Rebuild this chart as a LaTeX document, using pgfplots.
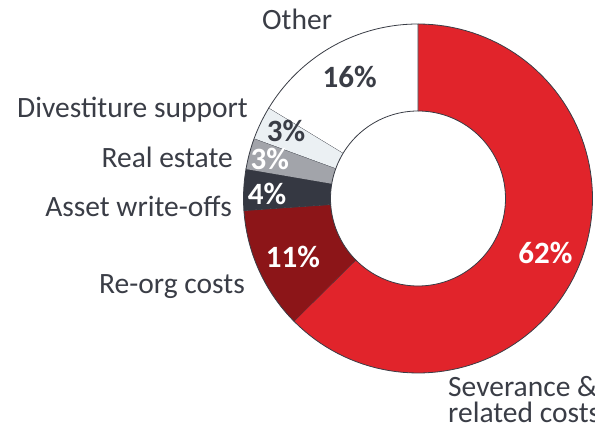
\documentclass[border=0pt]{standalone}
\usepackage{pgfplots}
\usepackage{pgfplotstable}
\pgfplotsset{compat=1.18}
\usepackage{fontspec}
\setmainfont{Carlito}

\definecolor{sec0}{HTML}{E1242B}
\definecolor{sec1}{HTML}{8C1518}
\definecolor{sec2}{HTML}{353842}
\definecolor{sec3}{HTML}{A2A4AA}
\definecolor{sec4}{HTML}{EBF0F3}
\definecolor{sec5}{HTML}{FFFFFF}
\definecolor{edge}{HTML}{3A3D46}
\definecolor{txt}{HTML}{3A3D46}

\newcommand\lab{\fontsize{29.5bp}{31bp}\selectfont}
\newcommand\pct{\fontsize{31bp}{33bp}\selectfont\bfseries}

% shares in percent, clockwise from 12 o'clock
\pgfplotstableread{
id value
0 62.6
1 11.3
2 3.8
3 2.9
4 3.1
5 16.3
}\shares

\xdef\cum{90}
\foreach \r in {0,...,5}{%
  \pgfplotstablegetelem{\r}{value}\of\shares
  \pgfmathsetmacro\b{\cum-\pgfplotsretval*3.6}%
  \expandafter\xdef\csname aS\r\endcsname{\cum}%
  \expandafter\xdef\csname aE\r\endcsname{\b}%
  \xdef\cum{\b}%
}

\begin{document}
\begin{tikzpicture}
\useasboundingbox (0,0) rectangle (595bp,428bp);
\begin{axis}[at={(0,0)}, anchor=origin, scale only axis,
  width=595bp, height=428bp, xmin=0, xmax=595, ymin=0, ymax=428,
  hide axis, clip=false]
\pgfplotsinvokeforeach{0,...,5}{%
  \edef\A{\csname aS#1\endcsname}%
  \edef\B{\csname aE#1\endcsname}%
  \edef\doplot{\noexpand\addplot[fill=sec#1, draw=edge, line width=0.8bp,
     domain=0:2, samples=201, variable=\noexpand\t]
   ({418+((\noexpand\t<1.005)?174.5:87.5)*cos(((\noexpand\t<1.005)?(\A+(\B-\A)*\noexpand\t):(\B+(\A-\B)*(\noexpand\t-1.01)/0.99)))},
    {229.5+((\noexpand\t<1.005)?174.5:87.5)*sin(((\noexpand\t<1.005)?(\A+(\B-\A)*\noexpand\t):(\B+(\A-\B)*(\noexpand\t-1.01)/0.99)))});}%
  \doplot
}

% category labels
\node[anchor=base west, text=txt, font=\lab, inner sep=0] at (axis cs:262,398.7) {Other};
\node[anchor=base east, text=txt, font=\lab, inner sep=0] at (axis cs:248,310.3) {Divestiture support};
\node[anchor=base east, text=txt, font=\lab, inner sep=0] at (axis cs:233,260.3) {Real estate};
\node[anchor=base east, text=txt, font=\lab, inner sep=0] at (axis cs:232,211.3) {Asset write-offs};
\node[anchor=base east, text=txt, font=\lab, inner sep=0] at (axis cs:245,134.7) {Re-org costs};
\node[anchor=base west, text=txt, font=\lab, inner sep=0] at (axis cs:448,31.5) {Severance \&};
\node[anchor=base west, text=txt, font=\lab, inner sep=0] at (axis cs:448,6) {related costs};

% percentage labels
\node[text=white, font=\pct, inner sep=0] at (axis cs:545.5,175) {62\%};
\node[text=white, font=\pct, inner sep=0] at (axis cs:293,171) {11\%};
\node[text=white, font=\pct, inner sep=0] at (axis cs:267,234) {4\%};
\node[text=white, font=\pct, inner sep=0] at (axis cs:269.7,269) {3\%};
\node[text=txt, font=\pct, inner sep=0] at (axis cs:286,297) {3\%};
\node[text=txt, font=\pct, inner sep=0] at (axis cs:349.7,351) {16\%};
\end{axis}
\end{tikzpicture}
\end{document}
